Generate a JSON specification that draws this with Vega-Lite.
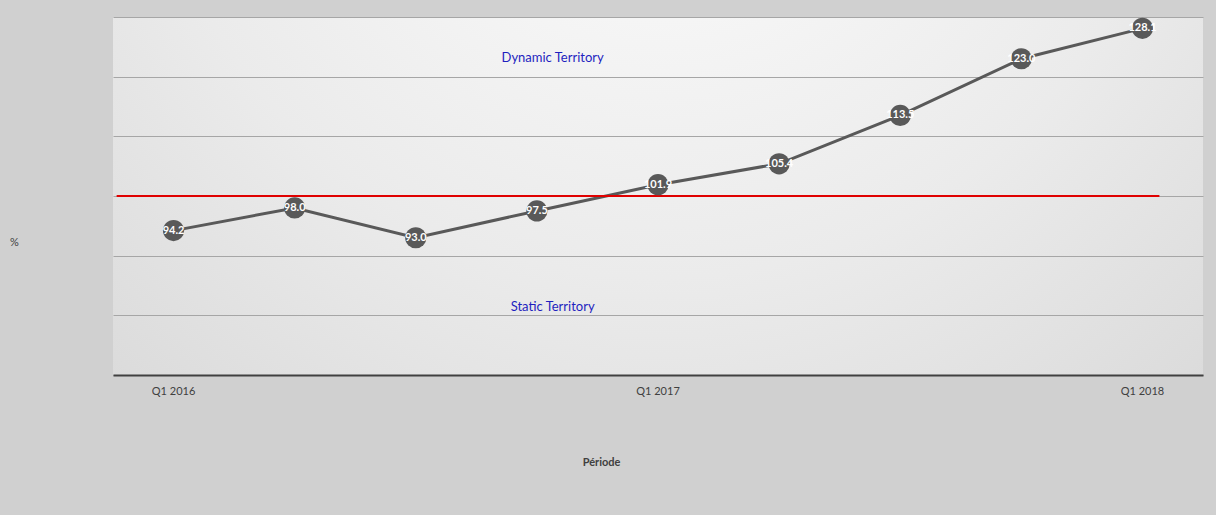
{
  "$schema": "https://vega.github.io/schema/vega-lite/v6.json",
  "width": 1090,
  "height": 358,
  "autosize": {"type": "none"},
  "padding": {"left": 113, "top": 17, "right": 13, "bottom": 140},
  "background": "#d0d0d0",
  "datasets": {
    "series": [
      {"period": "Q1 2016", "value": 94.2},
      {"period": "Q2 2016", "value": 98.0},
      {"period": "Q3 2016", "value": 93.0},
      {"period": "Q4 2016", "value": 97.5},
      {"period": "Q1 2017", "value": 101.9},
      {"period": "Q2 2017", "value": 105.4},
      {"period": "Q3 2017", "value": 113.5},
      {"period": "Q4 2017", "value": 123.0},
      {"period": "Q1 2018", "value": 128.1}
    ],
    "threshold": [
      {"start": "Q1 2016", "end": "Q1 2018", "value": 100}
    ],
    "notes": [
      {"period": "Q4 2016", "value": 123.1, "label": "Dynamic Territory"},
      {"period": "Q4 2016", "value": 81.4, "label": "Static Territory"}
    ]
  },
  "layer": [
    {
      "data": {"name": "series"},
      "mark": {"type": "line", "color": "#595959", "strokeWidth": 3},
      "encoding": {
        "x": {
          "field": "period",
          "type": "ordinal",
          "bandPosition": 0.5,
          "scale": {
            "type": "band",
            "domain": ["Q1 2016", "Q2 2016", "Q3 2016", "Q4 2016", "Q1 2017", "Q2 2017", "Q3 2017", "Q4 2017", "Q1 2018"],
            "paddingInner": 0,
            "paddingOuter": 0
          },
          "axis": {
            "values": ["Q1 2016", "Q1 2017", "Q1 2018"],
            "ticks": false,
            "grid": false,
            "labelAngle": 0,
            "labelPadding": 10,
            "labelFontSize": 11,
            "labelColor": "#404040",
            "domainColor": "#404040",
            "domainWidth": 2,
            "title": "Période",
            "titleX": 488,
            "titleFontSize": 11,
            "titleFontWeight": "bold",
            "titleColor": "#404040",
            "titlePadding": 60
          }
        },
        "y": {
          "field": "value",
          "type": "quantitative",
          "scale": {"domain": [70, 130], "nice": false, "zero": false},
          "axis": {
            "values": [70, 80, 90, 100, 110, 120, 130],
            "labels": false,
            "ticks": false,
            "domain": false,
            "grid": true,
            "gridColor": "#a6a6a6",
            "gridWidth": 1,
            "title": "%",
            "titleAngle": 0,
            "titleX": -99,
            "titleY": 230,
            "titleFontSize": 11,
            "titleFontWeight": "normal",
            "titleColor": "#404040"
          }
        }
      }
    },
    {
      "data": {"name": "threshold"},
      "mark": {"type": "rule", "color": "#e00000", "strokeWidth": 2},
      "encoding": {
        "x": {"field": "start", "type": "ordinal", "bandPosition": 0.03},
        "x2": {"field": "end", "bandPosition": 0.64},
        "y": {"field": "value", "type": "quantitative"}
      }
    },
    {
      "data": {"name": "series"},
      "mark": {"type": "point", "filled": true, "shape": "circle", "size": 450, "color": "#595959", "opacity": 1},
      "encoding": {
        "x": {"field": "period", "type": "ordinal", "bandPosition": 0.5},
        "y": {"field": "value", "type": "quantitative"}
      }
    },
    {
      "data": {"name": "series"},
      "mark": {"type": "text", "color": "#ffffff", "fontSize": 11, "fontWeight": "bold", "align": "center", "baseline": "middle"},
      "encoding": {
        "x": {"field": "period", "type": "ordinal", "bandPosition": 0.5},
        "y": {"field": "value", "type": "quantitative"},
        "text": {"field": "value", "type": "quantitative", "format": ".1f"}
      }
    },
    {
      "data": {"name": "notes"},
      "mark": {"type": "text", "color": "#1f1fbf", "fontSize": 13, "align": "center", "baseline": "middle"},
      "encoding": {
        "x": {"field": "period", "type": "ordinal", "bandPosition": 0.63},
        "y": {"field": "value", "type": "quantitative"},
        "text": {"field": "label"}
      }
    }
  ],
  "config": {
    "font": "Lato",
    "view": {
      "stroke": null,
      "fill": {
        "gradient": "radial",
        "x1": 0.5, "y1": 0.1, "r1": 0,
        "x2": 0.5, "y2": 0.1, "r2": 0.95,
        "stops": [
          {"offset": 0, "color": "#ffffff"},
          {"offset": 0.5, "color": "#ebebeb"},
          {"offset": 1, "color": "#d0d0d0"}
        ]
      }
    }
  }
}
